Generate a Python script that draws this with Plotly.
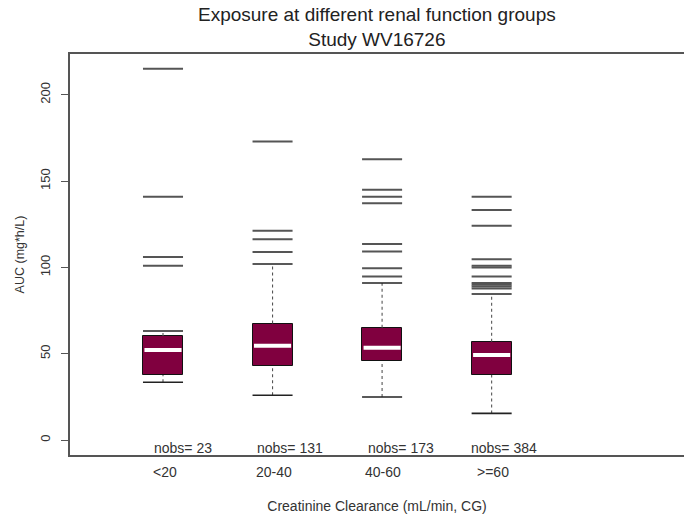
import plotly.graph_objects as go

# ---- data ----
categories = ["<20", "20-40", "40-60", ">=60"]
positions = [1, 2, 3, 4]
nobs = [23, 131, 173, 384]
whisker_low = [33.5, 26.0, 25.0, 15.5]
q1 = [37.7, 43.0, 45.8, 37.7]
median = [52.2, 54.7, 53.5, 49.3]
q3 = [60.3, 67.5, 65.1, 57.0]
whisker_high = [63.2, 102.0, 91.0, 84.6]
outliers = [
    [215.0, 141.0, 106.0, 101.0],
    [173.0, 121.2, 116.3, 109.0],
    [162.7, 145.0, 141.0, 137.2, 113.6, 109.2, 99.5, 94.7],
    [141.0, 133.3, 124.1, 104.7, 101.0, 100.0, 94.7, 91.0, 90.0, 89.0, 87.8],
]

MAROON = "#80003f"
AXIS = "#555555"
TEXT = "#333333"
FONT = "Liberation Sans, Arial, sans-serif"
BOX_W = 0.365
nobs_offset = [0.10, 0.16, 0.146, 0.207]
label_offset = [0.112, 0.169, 0.174, 0.153]

fig = go.Figure()

# whiskers (dotted)
wx, wy = [], []
for p, lo, a, b, hi in zip(positions, whisker_low, q1, q3, whisker_high):
    wx += [p, p, None, p, p, None]
    wy += [lo, a, None, b, hi, None]
fig.add_trace(go.Scatter(x=wx, y=wy, mode="lines",
                         line=dict(color="#555555", width=1.1, dash="dot"),
                         hoverinfo="skip", showlegend=False))

# boxes
fig.add_trace(go.Bar(x=positions, y=[b - a for a, b in zip(q1, q3)], base=q1,
                     width=BOX_W, marker=dict(color=MAROON, line=dict(color="#111111", width=1)),
                     showlegend=False))

# whisker caps
fig.add_trace(go.Scatter(x=positions + positions, y=whisker_low + whisker_high, mode="markers",
                         marker=dict(symbol="line-ew", size=28.6, line=dict(color="#222222", width=1.6)),
                         showlegend=False))

# medians
fig.add_trace(go.Scatter(x=positions, y=median, mode="markers",
                         marker=dict(symbol="line-ew", size=26.5, line=dict(color="white", width=4)),
                         showlegend=False))

# outliers
ox, oy = [], []
for p, vals in zip(positions, outliers):
    ox += [p] * len(vals)
    oy += vals
fig.add_trace(go.Scatter(x=ox, y=oy, mode="markers",
                         marker=dict(symbol="line-ew", size=28.6, line=dict(color=AXIS, width=2)),
                         showlegend=False))

annotations = [dict(x=0.5, y=1, xref="paper", yref="paper", yshift=2,
                    text="Exposure at different renal function groups<br>Study WV16726",
                    showarrow=False, xanchor="center", yanchor="bottom",
                    font=dict(size=19, color="#222222", family=FONT))]
for p, n, c, no, lo in zip(positions, nobs, categories, nobs_offset, label_offset):
    annotations.append(dict(x=p - no, y=-4.6, xref="x", yref="y", text=f"nobs= {n}",
                            showarrow=False, xanchor="left", yanchor="middle",
                            font=dict(size=14, color=TEXT, family=FONT)))
    annotations.append(dict(x=p - lo, y=0, xref="x", yref="paper", yshift=-17, text=c,
                            showarrow=False, xanchor="left", yanchor="middle",
                            font=dict(size=14, color=TEXT, family=FONT)))

fig.update_layout(
    width=684, height=518,
    margin=dict(l=70, r=0, t=54, b=63),
    paper_bgcolor="white", plot_bgcolor="white",
    font=dict(family=FONT, color=TEXT, size=12),
    annotations=annotations,
    bargap=0,
)
fig.update_xaxes(range=[0.151, 5.756], showticklabels=False, ticks="", showgrid=False,
                 zeroline=False, showline=True, mirror=True, linecolor=AXIS, linewidth=2,
                 title=dict(text="Creatinine Clearance (mL/min, CG)", standoff=45,
                            font=dict(size=14, color=TEXT, family=FONT)))
fig.update_yaxes(range=[-8.6, 223.6], tickvals=[0, 50, 100, 150, 200], ticks="outside",
                 ticklen=7, tickcolor=AXIS, tickwidth=1, tickangle=-90, showgrid=False,
                 zeroline=False, showline=True, mirror=False, linecolor=AXIS, linewidth=2,
                 ticklabelstandoff=6,
                 tickfont=dict(size=13, color=TEXT, family=FONT),
                 title=dict(text="AUC (mg*h/L)", standoff=10,
                            font=dict(size=12.5, color=TEXT, family=FONT)))

fig.write_html("out.html")
